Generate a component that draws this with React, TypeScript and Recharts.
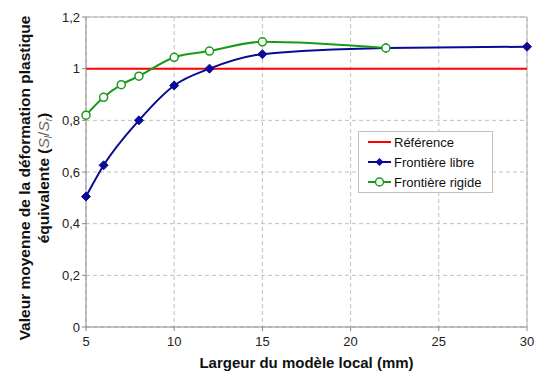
import React from 'react';
import { LineChart, Line, XAxis, YAxis, CartesianGrid, ReferenceLine } from 'recharts';

const xTicks = [5, 10, 15, 20, 25, 30];
const yTicks = [0, 0.2, 0.4, 0.6, 0.8, 1, 1.2];

const refX = [5, 30];
const refY = [1, 1];

const libreX = [5, 6, 8, 10, 12, 15, 22, 30];
const libreY = [0.505, 0.626, 0.8, 0.935, 1.0, 1.056, 1.08, 1.085];

const rigideX = [5, 6, 7, 8, 10, 12, 15, 22];
const rigideY = [0.82, 0.889, 0.938, 0.971, 1.044, 1.068, 1.104, 1.08];

const refData = refX.map((x, i) => ({ x, y: refY[i] }));
const libreData = libreX.map((x, i) => ({ x, y: libreY[i] }));
const rigideData = rigideX.map((x, i) => ({ x, y: rigideY[i] }));

const FONT = 'Liberation Sans, Arial, sans-serif';
const fmt = (v: number) => String(v).replace('.', ',');

const Diamond = (props: any) => {
  const { cx, cy } = props;
  if (cx == null || cy == null) return null;
  const r = 4.5;
  return <path d={`M${cx},${cy - r}L${cx + r},${cy}L${cx},${cy + r}L${cx - r},${cy}Z`} fill="#0a0a96" stroke="#0a0a96" />;
};
const Circ = (props: any) => {
  const { cx, cy } = props;
  if (cx == null || cy == null) return null;
  return <circle cx={cx} cy={cy} r={4} fill="#fff" stroke="#1a9a1a" strokeWidth={1.5} />;
};

export default function App() {
  return (
    <div style={{ position: 'absolute', left: 0, top: 0, width: 542, height: 383, background: '#fff' }}>
      <LineChart width={542} height={383} margin={{ top: 17, right: 15, bottom: 26, left: 0 }}>
        <CartesianGrid stroke="#c0c0c0" strokeDasharray="4 3" />
        <XAxis
          dataKey="x"
          type="number"
          domain={[5, 30]}
          ticks={xTicks}
          allowDuplicatedCategory={false}
          stroke="#8a8a8a"
          tickSize={4}
          height={30}
          tick={{ fill: '#222', fontSize: 13, fontFamily: FONT, dy: 4 }}
        />
        <YAxis
          dataKey="y"
          type="number"
          domain={[0, 1.2]}
          ticks={yTicks}
          width={86}
          stroke="#8a8a8a"
          tickSize={4}
          tickFormatter={fmt}
          tick={{ fill: '#222', fontSize: 13, fontFamily: FONT }}
        />
        <ReferenceLine x={30} stroke="#b0b0b0" />
        <ReferenceLine y={1.2} stroke="#b0b0b0" />
        <Line data={refData} dataKey="y" stroke="#ff0000" strokeWidth={2} dot={false} isAnimationActive={false} />
        <Line data={libreData} dataKey="y" type="monotone" stroke="#0a0a96" strokeWidth={2} dot={<Diamond />} isAnimationActive={false} />
        <Line data={rigideData} dataKey="y" type="monotone" stroke="#1a9a1a" strokeWidth={2} dot={<Circ />} isAnimationActive={false} />
      </LineChart>
      <svg style={{ position: 'absolute', left: 0, top: 0 }} width={542} height={383} pointerEvents="none">
        <g transform="translate(0,178) rotate(-90)">
          <text x={0} y={30} textAnchor="middle" fontFamily={FONT} fontSize={15.5} fontWeight="bold" fill="#111">
            Valeur moyenne de la déformation plastique
          </text>
          <text x={0} y={49} textAnchor="middle" fontFamily={FONT} fontSize={15.5} fontWeight="bold" fill="#111">
            équivalente (<tspan fontStyle="italic" fontWeight="normal" fill="#666">S</tspan><tspan fontStyle="italic" fontWeight="normal" fill="#666" fontSize={10} dy={3}>l</tspan><tspan dy={-3} fontWeight="normal" fill="#666">/</tspan><tspan fontStyle="italic" fontWeight="normal" fill="#666">S</tspan><tspan fontStyle="italic" fontWeight="normal" fill="#666" fontSize={10} dy={3}>r</tspan><tspan dy={-3}>)</tspan>
          </text>
        </g>
        <text x={306.5} y={368} textAnchor="middle" fontFamily={FONT} fontSize={15} fontWeight="bold" fill="#111">
          Largeur du modèle local (mm)
        </text>
        <rect x={358.5} y={131.5} width={134} height={61} fill="#fff" stroke="#c0c0c0" />
        <line x1={368} x2={391} y1={142} y2={142} stroke="#ff0000" strokeWidth={2} />
        <text x={394} y={146.5} fontFamily={FONT} fontSize={13} fill="#111">Référence</text>
        <line x1={368} x2={391} y1={162} y2={162} stroke="#0a0a96" strokeWidth={2} />
        <path d="M379.5,158L383.5,162L379.5,166L375.5,162Z" fill="#0a0a96" />
        <text x={394} y={166.5} fontFamily={FONT} fontSize={13} fill="#111">Frontière libre</text>
        <line x1={368} x2={391} y1={182} y2={182} stroke="#1a9a1a" strokeWidth={2} />
        <circle cx={379.5} cy={182} r={4} fill="#fff" stroke="#1a9a1a" strokeWidth={1.5} />
        <text x={394} y={186.5} fontFamily={FONT} fontSize={13} fill="#111">Frontière rigide</text>
      </svg>
    </div>
  );
}
